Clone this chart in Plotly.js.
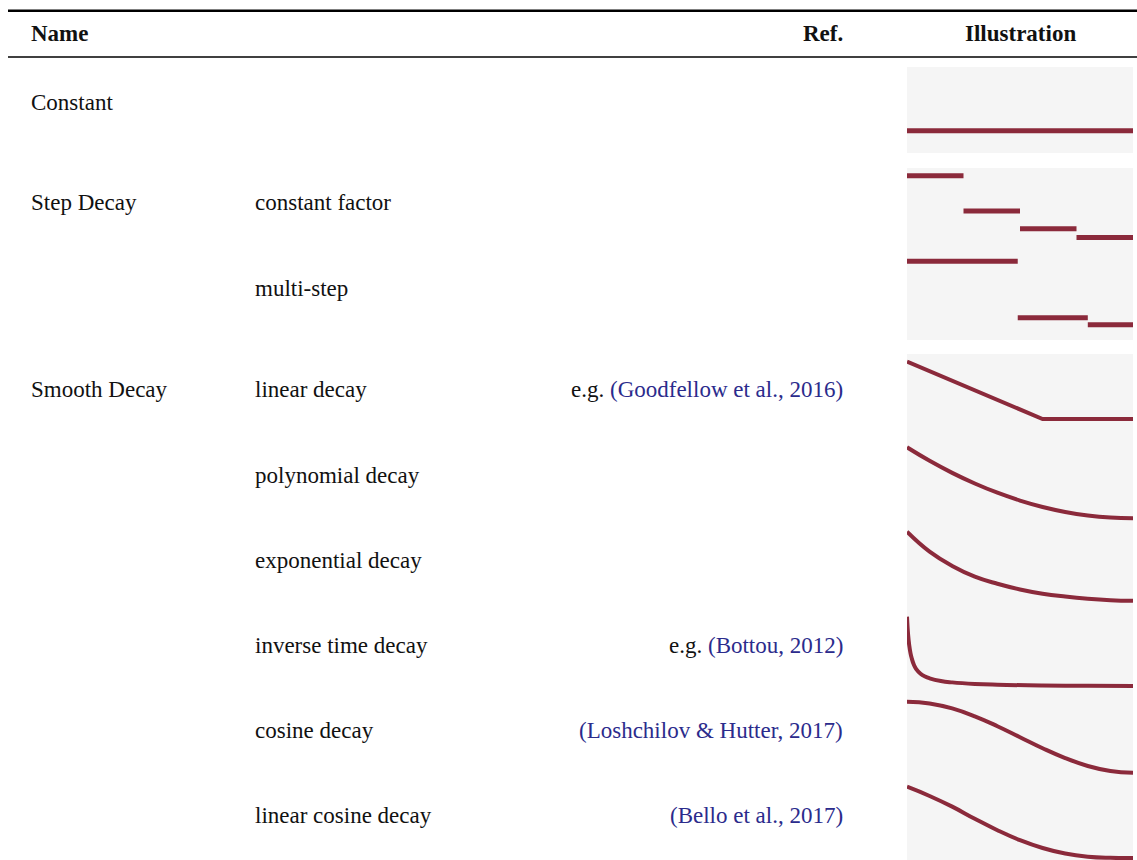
<!DOCTYPE html>
<html>
<head>
<meta charset="utf-8">
<script src="https://cdn.plot.ly/plotly-3.0.1.min.js"></script>
<style>html,body{margin:0;padding:0;background:#fff;}#chart{width:1137px;height:860px;}</style>
</head>
<body>
<div id="chart"></div>
<script>
// ---------- data ----------
const headerLabels = ["Name", "Ref.", "Illustration"];
const groupNames = ["Constant", "Step Decay", "Smooth Decay"];
const methodNames = ["", "constant factor", "multi-step", "linear decay", "polynomial decay",
  "exponential decay", "inverse time decay", "cosine decay", "linear cosine decay"];
const refPrefix = ["", "", "", "e.g. ", "", "", "e.g. ", "", ""];
const refCite = ["", "", "", "(Goodfellow et al., 2016)", "", "", "(Bottou, 2012)",
  "(Loshchilov & Hutter, 2017)", "(Bello et al., 2017)"];

const constX = [0, 1];
const constY = [1, 1];
const stepX = [0, 0.25, 0.5, 0.75, 1];
const stepY = [1, 0.5, 0.25, 0.125];
const multiX = [0, 0.49, 0.8, 1];
const multiY = [1, 0.2, 0.1];
const linearX = [0, 0.6, 1];
const linearY = [1, 0, 0];
const gridX = [0, 0.1, 0.2, 0.3, 0.4, 0.5, 0.6, 0.7, 0.8, 0.9, 1];
const polyY = [1, 0.81, 0.64, 0.49, 0.36, 0.25, 0.16, 0.09, 0.04, 0.01, 0];
const expY = [1, 0.72, 0.52, 0.37, 0.27, 0.19, 0.13, 0.09, 0.06, 0.04, 0.03];
const invX = [0, 0.005, 0.01, 0.015, 0.02, 0.03, 0.04, 0.06, 0.08, 0.1, 0.15, 0.2, 0.3, 0.4, 0.6, 0.8, 1];
const invY = [1, 0.74, 0.59, 0.49, 0.42, 0.32, 0.26, 0.19, 0.15, 0.125, 0.087, 0.067, 0.045, 0.034, 0.023, 0.018, 0.014];
const cosY = [1, 0.976, 0.905, 0.794, 0.655, 0.5, 0.345, 0.206, 0.095, 0.024, 0];
const lincosY = [1, 0.87, 0.72, 0.55, 0.39, 0.25, 0.14, 0.062, 0.019, 0.003, 0];

// ---------- layout helpers ----------
const W = 1137, H = 860;
const px = p => p / W;
const py = p => 1 - p / H;
const LINE = '#8b2a3b';
const CITE = '#2b2b8c';
const TXT = '#111111';
const FONT = '"Liberation Serif", "Times New Roman", "DejaVu Serif", serif';

function segs(xs, ys) {
  const X = [], Y = [];
  for (let i = 0; i < ys.length; i++) {
    X.push(xs[i], xs[i + 1], null);
    Y.push(ys[i], ys[i], null);
  }
  return {x: X, y: Y};
}

const s1 = segs(stepX, stepY), s2 = segs(multiX, multiY);
const rows = [
  {x: constX, y: constY, top: 67, bot: 153, p1: 130.7, p0: 201.3, w: 5, shape: 'linear'},
  {x: s1.x, y: s1.y, top: 168, bot: 254, p1: 175.7, p0: 246.3, w: 5, shape: 'linear'},
  {x: s2.x, y: s2.y, top: 254, bot: 340, p1: 261.3, p0: 331.9, w: 5, shape: 'linear'},
  {x: linearX, y: linearY, top: 354, bot: 439, p1: 361.7, p0: 419, w: 4, shape: 'linear'},
  {x: gridX, y: polyY, top: 439, bot: 524, p1: 447.3, p0: 518.3, w: 4, shape: 'spline'},
  {x: gridX, y: expY, top: 524, bot: 609, p1: 531.7, p0: 603, w: 4, shape: 'spline'},
  {x: invX, y: invY, top: 609, bot: 694, p1: 616.7, p0: 687.1, w: 4, shape: 'spline'},
  {x: gridX, y: cosY, top: 694, bot: 779, p1: 701.7, p0: 772.7, w: 4, shape: 'spline'},
  {x: gridX, y: lincosY, top: 779, bot: 860, p1: 786.7, p0: 858, w: 4, shape: 'spline'}
];
const rowCenter = [102, 203, 288, 390, 475, 560, 645, 730, 815];
const groupRow = [0, 1, 3];

const traces = [];
const layout = {
  width: W, height: H,
  margin: {l: 0, r: 0, t: 0, b: 0},
  paper_bgcolor: '#ffffff',
  plot_bgcolor: 'rgba(0,0,0,0)',
  showlegend: false,
  shapes: [],
  annotations: []
};

rows.forEach((r, i) => {
  const k = i === 0 ? '' : String(i + 1);
  const s = r.p0 - r.p1;
  traces.push({
    type: 'scatter', mode: 'lines', x: r.x, y: r.y,
    xaxis: 'x' + k, yaxis: 'y' + k,
    line: {color: LINE, width: r.w, shape: r.shape, smoothing: 1.3},
    hoverinfo: 'skip', connectgaps: false
  });
  const ax = {domain: [px(907), px(1133)], range: [0, 1], visible: false, fixedrange: true};
  const ay = {domain: [py(r.bot), py(r.top)], range: [(r.p0 - r.bot) / s, (r.p0 - r.top) / s],
    visible: false, fixedrange: true};
  if (i > 0) { ax.anchor = 'y' + k; ay.anchor = 'x' + k; }
  layout['xaxis' + k] = ax;
  layout['yaxis' + k] = ay;
});

// grey illustration panels
[[67, 153], [168, 340], [354, 862]].forEach(p => {
  layout.shapes.push({type: 'rect', xref: 'paper', yref: 'paper', layer: 'below',
    x0: px(907), x1: px(1133), y0: py(p[1]), y1: py(p[0]),
    fillcolor: '#f5f5f5', line: {width: 0}});
});
// rules
layout.shapes.push({type: 'line', xref: 'paper', yref: 'paper', x0: px(8), x1: 1,
  y0: py(10.8), y1: py(10.8), line: {color: '#000', width: 2.6}});
layout.shapes.push({type: 'line', xref: 'paper', yref: 'paper', x0: px(8), x1: 1,
  y0: py(57), y1: py(57), line: {color: '#000', width: 1.5}});

function ann(text, x, y, xanchor, bold) {
  layout.annotations.push({
    xref: 'paper', yref: 'paper', x: px(x), y: py(y), xanchor: xanchor, yanchor: 'middle',
    text: bold ? '<b>' + text + '</b>' : text, showarrow: false, borderpad: 0,
    font: {family: FONT, size: 23, color: TXT}
  });
}
ann(headerLabels[0], 30, 33, 'left', true);
ann(headerLabels[1], 844, 33, 'right', true);
ann(headerLabels[2], 1020, 33, 'center', true);
groupNames.forEach((g, i) => ann(g, 30, rowCenter[groupRow[i]], 'left', false));
methodNames.forEach((m, i) => { if (m) ann(m, 254, rowCenter[i], 'left', false); });
refCite.forEach((c, i) => {
  if (c) ann(refPrefix[i] + '<span style="color:' + CITE + '">' + c + '</span>', 844, rowCenter[i], 'right', false);
});

Plotly.newPlot('chart', traces, layout, {displayModeBar: false, staticPlot: true});
</script>
</body>
</html>
